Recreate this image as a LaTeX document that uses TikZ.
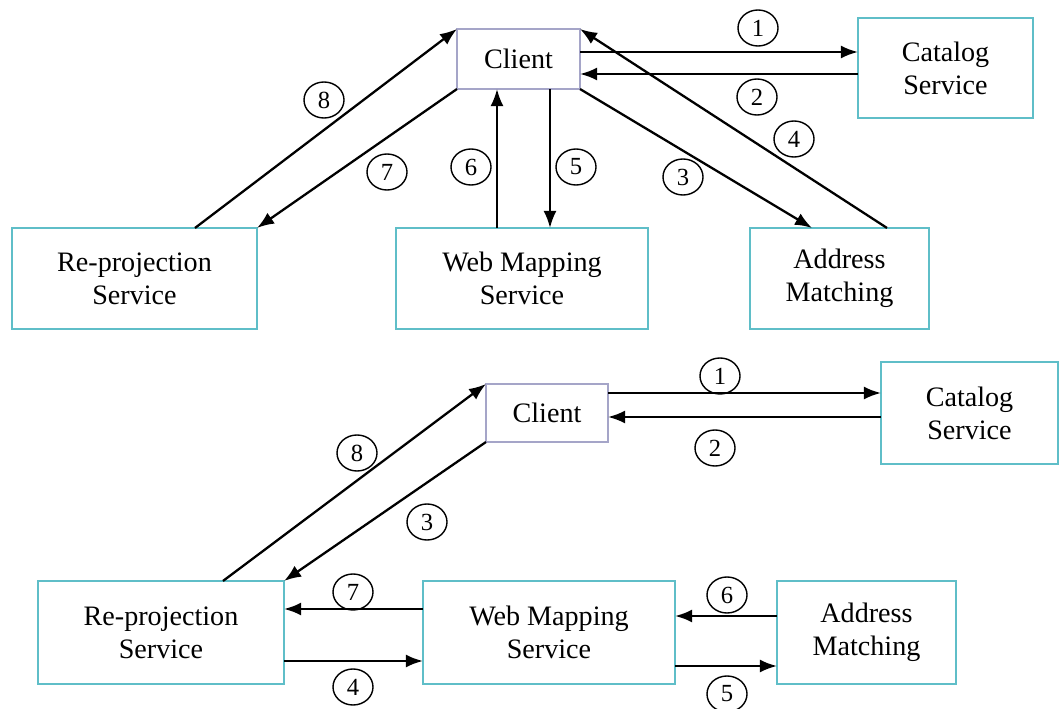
\documentclass[tikz,border=0pt]{standalone}
\usepackage{fontspec}
\setmainfont{Liberation Serif}
\usetikzlibrary{arrows.meta,shapes.geometric}
\definecolor{boxline}{RGB}{95,190,200}
\definecolor{clientline}{RGB}{165,165,200}
\tikzset{
  svc/.style={draw=boxline,line width=0.7pt,inner sep=0pt,outer sep=0pt,align=center,font=\fontsize{8}{9.4}\selectfont},
  cli/.style={svc,draw=clientline,line width=0.5pt},
  num/.style={draw,ellipse,line width=0.4pt,minimum width=0.4cm,minimum height=0.36cm,inner sep=0pt,font=\fontsize{7}{7}\selectfont},
  msg/.style={line width=0.65pt,-{Latex[length=0.17cm,width=0.13cm]}}
}
\begin{document}
\begin{tikzpicture}[x=0.01cm,y=-0.01cm]
\useasboundingbox (0,0) rectangle (1060,709);

% first sequence
\node[cli,minimum width=1.23cm,minimum height=0.60cm] (client) at (518.5,59) {Client};
\node[svc,minimum width=1.75cm,minimum height=1.00cm] (cat) at (945.5,68) {Catalog\\Service};
\node[svc,minimum width=2.45cm,minimum height=1.01cm] (rep) at (134.5,278.5) {Re-projection\\Service};
\node[svc,minimum width=2.52cm,minimum height=1.01cm] (wms) at (522,278.5) {Web Mapping\\Service};
\node[svc,minimum width=1.79cm,minimum height=1.01cm] (addr) at (839.5,278.5) {Address\\Matching};

\draw[msg] (client.east |- 0,52) -- (cat.west |- 0,52);
\draw[msg] (cat.west |- 0,74) -- (client.east |- 0,74);
\draw[msg] (client.south east) -- (addr.north -| 812,0);
\draw[msg] (addr.north -| 887,0) -- (client.north east);
\draw[msg] (client.south -| 550,0) -- (wms.north -| 550,0);
\draw[msg] (wms.north -| 497,0) -- (client.south -| 497,0);
\draw[msg] (client.south west) -- (rep.north east);
\draw[msg] (rep.north -| 195,0) -- (client.north west);

\node[num] (a1) at (758,28) {1};
\node[num] (a2) at (757,97) {2};
\node[num] (a3) at (683,177) {3};
\node[num] (a4) at (794,139) {4};
\node[num] (a5) at (576,167) {5};
\node[num] (a6) at (471,167) {6};
\node[num] (a7) at (387,172) {7};
\node[num] (a8) at (324,100) {8};

% second sequence
\node[cli,minimum width=1.22cm,minimum height=0.58cm] (client2) at (547,413) {Client};
\node[svc,minimum width=1.77cm,minimum height=1.02cm] (cat2) at (969.5,413) {Catalog\\Service};
\node[svc,minimum width=2.46cm,minimum height=1.03cm] (rep2) at (161,632.5) {Re-projection\\Service};
\node[svc,minimum width=2.52cm,minimum height=1.03cm] (wms2) at (549,632.5) {Web Mapping\\Service};
\node[svc,minimum width=1.79cm,minimum height=1.03cm] (addr2) at (866.5,632.5) {Address\\Matching};

\draw[msg] (client2.east |- 0,393) -- (cat2.west |- 0,393);
\draw[msg] (cat2.west |- 0,417) -- (client2.east |- 0,417);
\draw[msg] (rep2.north -| 223,0) -- (client2.north west);
\draw[msg] (client2.south west) -- (rep2.north east);
\draw[msg] (wms2.west |- 0,609) -- (rep2.east |- 0,609);
\draw[msg] (rep2.east |- 0,661) -- (wms2.west |- 0,661);
\draw[msg] (addr2.west |- 0,616) -- (wms2.east |- 0,616);
\draw[msg] (wms2.east |- 0,666) -- (addr2.west |- 0,666);

\node[num] (b1) at (720,376) {1};
\node[num] (b2) at (715,448) {2};
\node[num] (b3) at (427,522) {3};
\node[num] (b4) at (353,687) {4};
\node[num] (b5) at (727,694) {5};
\node[num] (b6) at (727,595) {6};
\node[num] (b7) at (353,592) {7};
\node[num] (b8) at (357,453) {8};
\end{tikzpicture}
\end{document}
